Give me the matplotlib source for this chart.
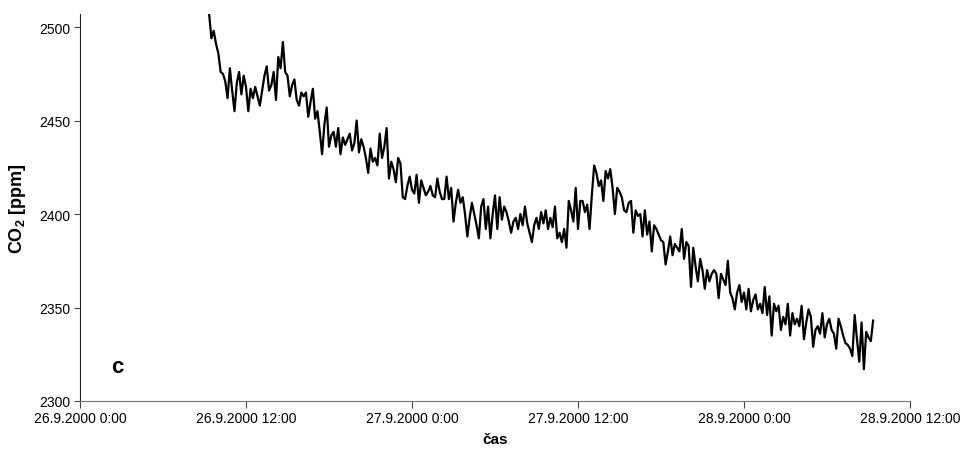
import matplotlib
matplotlib.use('Agg')
import matplotlib.pyplot as plt
import matplotlib.dates as mdates
from matplotlib.ticker import FuncFormatter
import pandas as pd

plt.rcParams['font.family'] = ['Liberation Sans', 'DejaVu Sans']
plt.rcParams['mathtext.fontset'] = 'custom'
plt.rcParams['mathtext.rm'] = 'Liberation Sans'
plt.rcParams['mathtext.bf'] = 'Liberation Sans:bold'

# CO2 record, 10 minute step, starting 26.9.2000 9:20
start = '2000-09-26 09:20'
co2 = [
    2507, 2494, 2498, 2491, 2486, 2476,
    2475, 2471, 2462, 2478, 2466, 2455,
    2470, 2476, 2464, 2474, 2468, 2455,
    2467, 2462, 2468, 2463, 2458, 2466,
    2474, 2479, 2466, 2469, 2476, 2461,
    2484, 2478, 2492, 2476, 2474, 2463,
    2469, 2472, 2461, 2458, 2465, 2463,
    2465, 2452, 2460, 2467, 2451, 2455,
    2444, 2432, 2448, 2457, 2436, 2442,
    2444, 2436, 2446, 2432, 2441, 2437,
    2440, 2443, 2434, 2438, 2450, 2433,
    2440, 2436, 2430, 2422, 2435, 2428,
    2430, 2426, 2443, 2430, 2436, 2446,
    2419, 2428, 2424, 2417, 2430, 2427,
    2409, 2408, 2415, 2420, 2413, 2411,
    2421, 2406, 2418, 2414, 2410, 2412,
    2415, 2410, 2409, 2419, 2412, 2408,
    2408, 2420, 2408, 2414, 2396, 2406,
    2413, 2406, 2409, 2400, 2388, 2398,
    2406, 2400, 2394, 2387, 2404, 2408,
    2392, 2404, 2387, 2400, 2410, 2392,
    2409, 2397, 2404, 2401, 2396, 2390,
    2396, 2398, 2392, 2400, 2394, 2404,
    2395, 2390, 2385, 2394, 2398, 2392,
    2401, 2395, 2402, 2392, 2398, 2393,
    2404, 2387, 2390, 2385, 2392, 2382,
    2407, 2402, 2396, 2414, 2392, 2407,
    2407, 2401, 2405, 2392, 2410, 2426,
    2422, 2415, 2418, 2407, 2423, 2419,
    2424, 2414, 2400, 2414, 2412, 2409,
    2402, 2401, 2406, 2407, 2390, 2402,
    2399, 2400, 2388, 2402, 2389, 2396,
    2380, 2394, 2392, 2389, 2386, 2385,
    2373, 2380, 2388, 2378, 2384, 2382,
    2380, 2392, 2376, 2385, 2383, 2361,
    2382, 2372, 2364, 2376, 2370, 2360,
    2370, 2364, 2368, 2370, 2368, 2355,
    2368, 2365, 2362, 2375, 2358, 2355,
    2349, 2358, 2362, 2353, 2358, 2349,
    2360, 2348, 2354, 2357, 2349, 2352,
    2347, 2361, 2346, 2356, 2335, 2352,
    2348, 2351, 2338, 2345, 2341, 2352,
    2335, 2347, 2341, 2344, 2340, 2351,
    2333, 2342, 2349, 2345, 2329, 2338,
    2340, 2336, 2347, 2334, 2341, 2344,
    2338, 2336, 2328, 2344, 2340, 2335,
    2331, 2330, 2328, 2324, 2346, 2333,
    2321, 2342, 2317, 2337, 2334, 2332,
    2343,
]
t = pd.date_range(start, periods=len(co2), freq='10min')

x_ticks = pd.date_range('2000-09-26 00:00', '2000-09-28 12:00', freq='12h')
y_ticks = [2300, 2350, 2400, 2450, 2500]


def date_label(v, pos):
    d = mdates.num2date(v)
    return f'{d.day}.{d.month}.{d.year} {d.hour}:{d.minute:02d}'


fig = plt.figure(figsize=(9.6, 4.56), dpi=100)
ax = fig.add_axes([80/960, 1-402/456, 830/960, 387/456])

ax.plot(t, co2, '-', color='black', lw=1.6)

ax.set_xlim(x_ticks[0], x_ticks[-1])
ax.set_ylim(2300, 2507)
ax.set_xticks(x_ticks)
ax.set_yticks(y_ticks)
ax.xaxis.set_major_formatter(FuncFormatter(date_label))

for s in ['top', 'right']:
    ax.spines[s].set_visible(False)
ax.spines['left'].set_color('#222222')
ax.spines['bottom'].set_color('#777777')
ax.tick_params(axis='x', length=5, width=0.8, color='#444444', labelsize=10, pad=2)
ax.tick_params(axis='y', length=4, width=0.8, color='#444444', labelsize=10, pad=3)

ax.set_ylabel(r'CO$_\mathbf{2}$ [ppm]', fontsize=13, fontweight='bold', labelpad=8)
ax.set_xlabel('čas', fontsize=11, fontweight='bold', labelpad=5)
ax.text(0.045, 0.09, 'c', transform=ax.transAxes, fontsize=16, fontweight='bold',
        ha='center', va='center')

fig.savefig('out.png', dpi=100)
